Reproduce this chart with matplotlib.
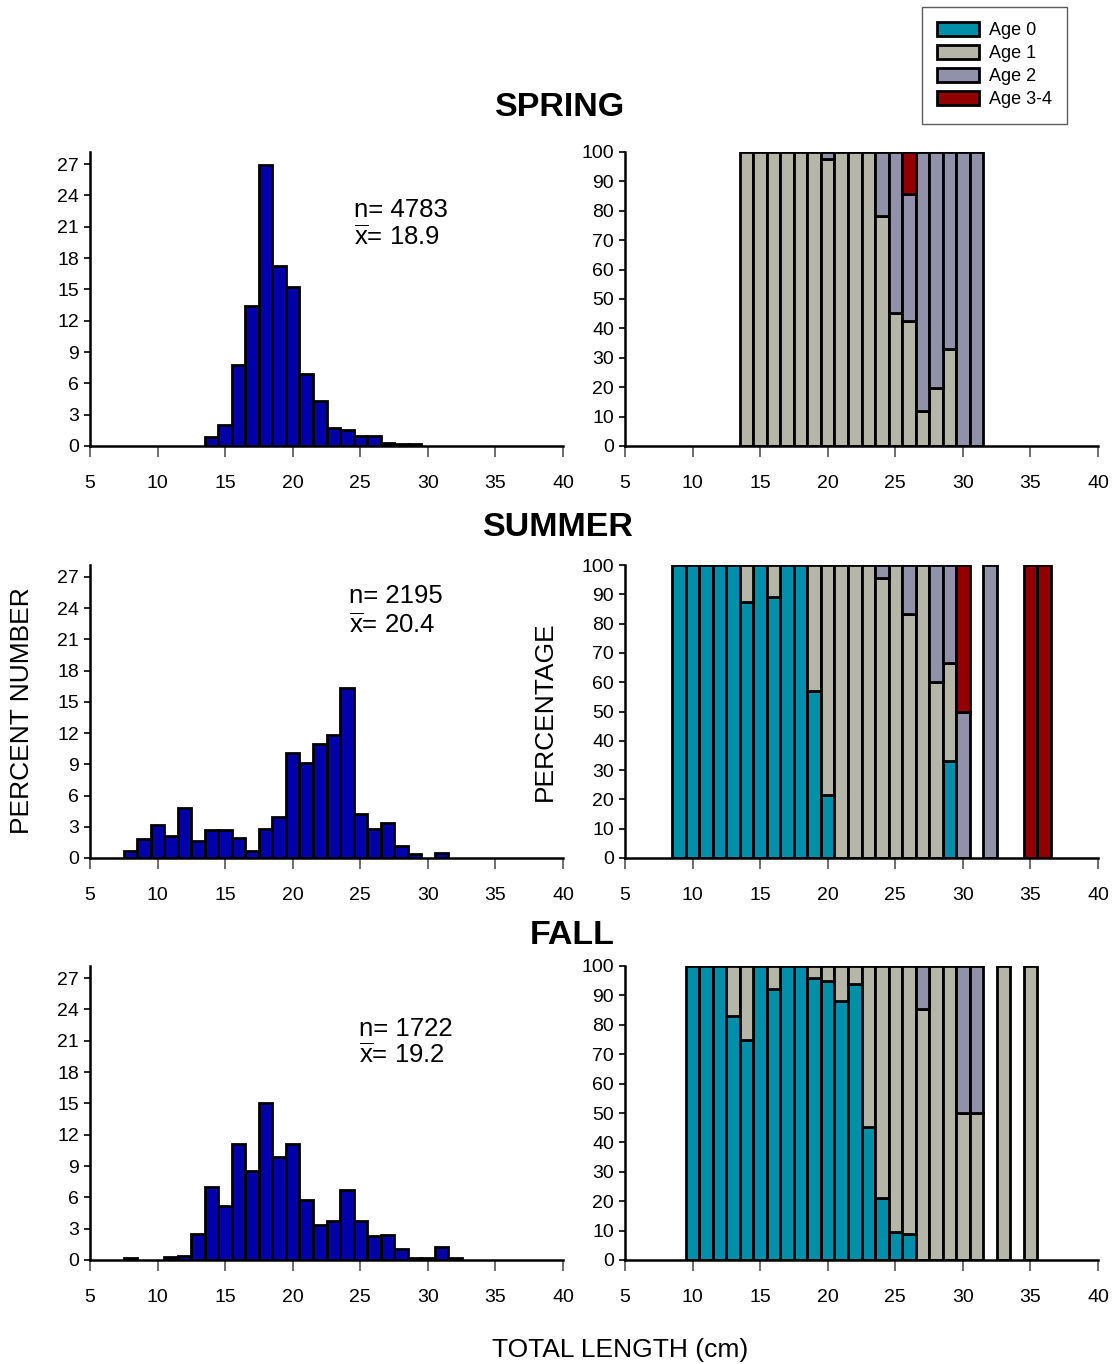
import numpy as np
import matplotlib
matplotlib.use("Agg")
import matplotlib.pyplot as plt
from matplotlib.patches import Patch

plt.rcParams['font.family'] = ['Liberation Sans', 'DejaVu Sans']
plt.rcParams['mathtext.fontset'] = 'custom'
plt.rcParams['mathtext.rm'] = 'Liberation Sans'

# Percent number by total length (cm)
spring_len = np.arange(14, 30)
spring_pct = [0.9, 2.0, 7.8, 13.4, 26.9, 17.2, 15.2, 6.85, 4.3, 1.7, 1.5, 0.95, 0.95, 0.25, 0.15, 0.15]

summer_len = np.arange(8, 32)
summer_pct = [0.64, 1.8, 3.2, 2.1, 4.8, 1.6, 2.65, 2.65, 1.9, 0.64, 2.74, 3.9,
              10.1, 9.1, 11.0, 11.85, 16.3, 4.2, 2.8, 3.4, 1.15, 0.4, 0, 0.5]

fall_len = np.arange(8, 33)
fall_pct = [0.2, 0, 0, 0.25, 0.38, 2.5, 7.0, 5.2, 11.07, 8.5, 15.0, 9.9, 11.07,
            5.75, 3.37, 3.7, 6.7, 3.7, 2.3, 2.4, 1.1, 0.2, 0.2, 1.25, 0.2]

# Age composition (%) by length
spring_age_len = np.arange(14, 32)
spring_age0 = [0] * 18
spring_age1 = [100, 100, 100, 100, 100, 100, 97.5, 100, 100, 100, 78.4, 45.2, 42.4, 12.0, 19.7, 33.1, 0, 0]
spring_age2 = [0, 0, 0, 0, 0, 0, 2.5, 0, 0, 0, 21.6, 54.8, 43.4, 88.0, 80.3, 66.9, 100, 100]
spring_age34 = [0, 0, 0, 0, 0, 0, 0, 0, 0, 0, 0, 0, 14.2, 0, 0, 0, 0, 0]

summer_age_len = np.arange(9, 37)
summer_age0 = [100, 100, 100, 100, 100, 87.5, 100, 89.1, 100, 100, 57.0, 21.4,
               0, 0, 0, 0, 0, 0, 0, 0, 33.0, 0, 0, 0, 0, 0, 0, 0]
summer_age1 = [0, 0, 0, 0, 0, 12.5, 0, 10.9, 0, 0, 43.0, 78.6,
               100, 100, 100, 95.5, 100, 83.2, 100, 59.9, 33.5, 0, 0, 0, 0, 0, 0, 0]
summer_age2 = [0, 0, 0, 0, 0, 0, 0, 0, 0, 0, 0, 0,
               0, 0, 0, 4.5, 0, 16.8, 0, 40.1, 33.5, 50, 0, 100, 0, 0, 0, 0]
summer_age34 = [0, 0, 0, 0, 0, 0, 0, 0, 0, 0, 0, 0,
                0, 0, 0, 0, 0, 0, 0, 0, 0, 50, 0, 0, 0, 0, 100, 100]

fall_age_len = np.arange(10, 36)
fall_age0 = [100, 100, 100, 83.1, 74.8, 100, 92.2, 100, 100, 95.8, 94.9, 88.0, 93.8,
             45.1, 21.2, 9.6, 8.7, 0, 0, 0, 0, 0, 0, 0, 0, 0]
fall_age1 = [0, 0, 0, 16.9, 25.2, 0, 7.8, 0, 0, 4.2, 5.1, 12.0, 6.2,
             54.9, 78.8, 90.4, 91.3, 85.5, 100, 100, 50, 50, 0, 100, 0, 100]
fall_age2 = [0, 0, 0, 0, 0, 0, 0, 0, 0, 0, 0, 0, 0,
             0, 0, 0, 0, 14.5, 0, 0, 50, 50, 0, 0, 0, 0]
fall_age34 = [0] * 26

seasons = ['SPRING', 'SUMMER', 'FALL']
n_labels = ['4783', '2195', '1722']
mean_labels = ['18.9', '20.4', '19.2']
age_names = ['Age 0', 'Age 1', 'Age 2', 'Age 3-4']

hist_color = '#0000AA'
age_colors = ['#008FA8', '#B5B5A8', '#9191A9', '#920000']

hists = [(spring_len, spring_pct), (summer_len, summer_pct), (fall_len, fall_pct)]
comps = [(spring_age_len, [spring_age0, spring_age1, spring_age2, spring_age34]),
         (summer_age_len, [summer_age0, summer_age1, summer_age2, summer_age34]),
         (fall_age_len, [fall_age0, fall_age1, fall_age2, fall_age34])]

W, H = 1113, 1364
fig = plt.figure(figsize=(W / 100, H / 100), dpi=100)

# axes tops/bottoms in pixels
rows = [(152, 446), (565, 858), (966, 1260)]
text_pos = [(24.5, 22.6, 20.0), (24.2, 25.2, 22.4), (24.9, 22.1, 19.6)]
title_pos = [(560, 108), (558, 527), (572, 935)]


def style_axes(ax):
    for s in ['top', 'right']:
        ax.spines[s].set_visible(False)
    for s in ['left', 'bottom']:
        ax.spines[s].set_linewidth(1.8)
    ax.set_xlim(5, 40)
    ax.set_xticks(np.arange(5, 41, 5))
    ax.tick_params(axis='x', direction='out', length=8, width=1.2, color='#555555',
                   labelsize=14, pad=13)
    ax.tick_params(axis='y', direction='out', length=4, width=1.2, labelsize=14, pad=4)


for i in range(3):
    top, bot = rows[i]
    b = 1 - bot / H
    h = (bot - top) / H
    axl = fig.add_axes([90 / W, b, 473 / W, h])
    axr = fig.add_axes([625 / W, b, 473 / W, h])

    # length-frequency histogram
    x, y = hists[i]
    y = np.array(y)
    m = y > 0
    axl.bar(x[m], y[m], width=1.0, color=hist_color, edgecolor='black', linewidth=2.0)
    style_axes(axl)
    axl.set_ylim(0, 28.15)
    axl.set_yticks(np.arange(0, 28, 3))

    tx, ty1, ty2 = text_pos[i]
    axl.text(tx, ty1, 'n= ' + n_labels[i], fontsize=18.5, va='center', ha='left')
    axl.text(tx, ty2, r'$\overline{\mathrm{x}}$= ' + mean_labels[i], fontsize=18.5,
             va='center', ha='left')

    # stacked age composition
    xa, ages = comps[i]
    bottom = np.zeros(len(xa))
    for vals, col in zip(ages, age_colors):
        v = np.array(vals, dtype=float)
        m = v > 0
        axr.bar(xa[m], v[m], bottom=bottom[m], width=1.0, color=col,
                edgecolor='black', linewidth=2.0)
        bottom += v
    style_axes(axr)
    axr.set_ylim(0, 100)
    axr.set_yticks(np.arange(0, 101, 10))

    fig.text(title_pos[i][0] / W, 1 - title_pos[i][1] / H, seasons[i],
             fontsize=24.5, fontweight='bold', ha='center', va='center')

fig.text(22 / W, 1 - 711 / H, 'PERCENT NUMBER', rotation=90, fontsize=19,
         ha='center', va='center')
fig.text(545 / W, 1 - 711 / H, 'PERCENTAGE', rotation=90, fontsize=19,
         ha='center', va='center')
fig.text(620 / W, 1 - 1350 / H, 'TOTAL LENGTH (cm)', fontsize=19,
         ha='center', va='center')

handles = [Patch(facecolor=c, edgecolor='black', linewidth=2.0, label=n)
           for c, n in zip(age_colors, age_names)]
leg = fig.legend(handles=handles, loc='upper left', bbox_to_anchor=(922 / W, 1 - 7 / H),
                 fontsize=13, frameon=True, fancybox=False, edgecolor='#333333',
                 handlelength=2.3, handleheight=0.75, labelspacing=0.33,
                 borderpad=0.85, handletextpad=0.55, borderaxespad=0)
leg.get_frame().set_linewidth(1.0)

fig.savefig('out.png', dpi=100)
